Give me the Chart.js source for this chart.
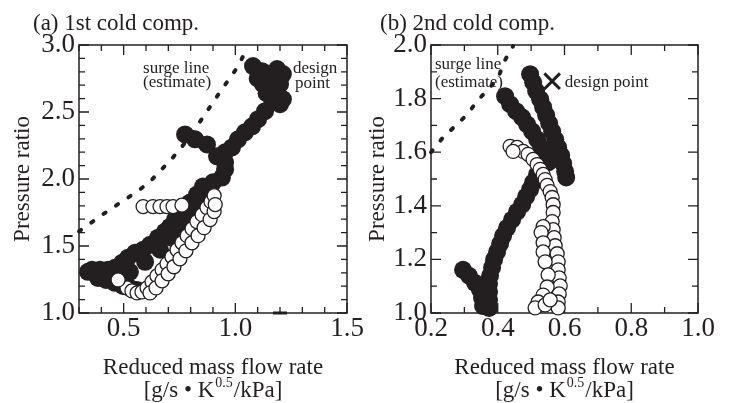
<!DOCTYPE html>
<html>
<head>
<meta charset="utf-8">
<script src="https://cdn.jsdelivr.net/npm/chart.js@4.4.1/dist/chart.umd.min.js"></script>
<style>
  html, body { margin: 0; padding: 0; background: #fff; }
  #wrap { position: relative; width: 732px; height: 403px; }
  canvas { position: absolute; top: 0; }
  #ca { left: 0; }
  #cb { left: 366px; }
</style>
</head>
<body>
<div id="wrap">
  <canvas id="ca" width="366" height="403"></canvas>
  <canvas id="cb" width="366" height="403"></canvas>
</div>
<script>
// (a) 1st cold comp. -- [reduced mass flow, pressure ratio]
const aFilled = [
  [1.079, 2.843], [1.120, 2.805], [1.155, 2.760], [1.187, 2.820], [1.213, 2.783], [1.200, 2.708],
  [1.155, 2.685], [1.124, 2.708], [1.178, 2.633], [1.213, 2.596], [1.200, 2.558], [1.164, 2.596],
  [1.100, 2.750], [1.140, 2.640],
  [1.133, 2.506], [1.102, 2.446], [1.075, 2.393], [1.043, 2.348], [1.012, 2.296], [0.985, 2.236],
  [0.954, 2.199], [0.775, 2.333], [0.820, 2.296], [0.873, 2.258], [0.918, 2.169], [0.954, 2.124],
  [0.954, 2.071], [0.940, 2.011], [0.900, 1.975], [0.855, 1.944], [0.828, 1.884], [0.797, 1.824],
  [0.775, 1.772], [0.752, 1.734], [0.730, 1.697], [0.708, 1.644], [0.685, 1.607], [0.654, 1.562],
  [0.618, 1.509], [0.587, 1.472], [0.551, 1.449], [0.519, 1.412], [0.493, 1.375], [0.461, 1.337],
  [0.430, 1.322], [0.394, 1.322], [0.358, 1.322], [0.340, 1.307], [0.385, 1.262], [0.421, 1.247],
  [0.461, 1.225], [0.497, 1.202], [0.528, 1.187], [0.560, 1.172],
  [0.528, 1.307], [0.596, 1.382], [0.663, 1.472], [0.716, 1.562], [0.761, 1.659], [0.806, 1.757],
  [0.842, 1.846], [0.887, 1.936]
];
const aOpen = [
  [0.515, 1.187], [0.537, 1.165], [0.560, 1.150], [0.582, 1.157], [0.605, 1.187], [0.627, 1.232],
  [0.649, 1.277], [0.672, 1.322], [0.694, 1.367], [0.716, 1.419], [0.739, 1.472], [0.761, 1.524],
  [0.784, 1.577], [0.806, 1.629], [0.828, 1.682], [0.851, 1.734], [0.873, 1.787], [0.891, 1.831],
  [0.905, 1.876], [0.618, 1.150], [0.645, 1.187], [0.672, 1.240], [0.699, 1.292], [0.725, 1.345],
  [0.752, 1.404], [0.779, 1.464], [0.806, 1.524], [0.833, 1.577], [0.860, 1.637], [0.887, 1.697],
  [0.905, 1.757], [0.910, 1.809], [0.587, 1.794], [0.631, 1.794], [0.663, 1.794], [0.694, 1.794],
  [0.721, 1.794], [0.761, 1.805], [0.475, 1.247]
];
const aSurge = [
  [0.30, 1.61], [0.425, 1.757], [0.56, 1.906], [0.618, 1.98], [0.72, 2.16], [0.78, 2.28],
  [0.855, 2.46], [0.94, 2.67], [1.01, 2.835], [1.045, 2.95]
];
const aMark = [[1.2, 1.0]];
const aXTicks = [0.5, 1.0, 1.5];
const aYTicks = [1.0, 1.5, 2.0, 2.5, 3.0];

// (b) 2nd cold comp.
const bFilled = [
  [0.497, 1.891], [0.506, 1.861], [0.515, 1.828], [0.527, 1.798], [0.536, 1.768], [0.545, 1.738],
  [0.554, 1.708], [0.563, 1.678], [0.572, 1.648], [0.581, 1.618], [0.590, 1.588], [0.596, 1.558],
  [0.602, 1.528], [0.605, 1.506],
  [0.422, 1.809], [0.437, 1.779], [0.455, 1.753], [0.473, 1.730], [0.488, 1.704], [0.503, 1.678],
  [0.518, 1.648], [0.530, 1.618], [0.542, 1.588], [0.551, 1.562], [0.527, 1.547], [0.518, 1.517],
  [0.506, 1.487], [0.497, 1.461], [0.485, 1.434], [0.473, 1.404], [0.458, 1.378], [0.443, 1.348],
  [0.428, 1.318], [0.416, 1.288], [0.407, 1.258], [0.398, 1.228], [0.389, 1.199], [0.383, 1.169],
  [0.377, 1.139], [0.374, 1.109], [0.374, 1.079], [0.374, 1.049], [0.374, 1.019],
  [0.296, 1.161], [0.314, 1.139], [0.332, 1.112], [0.347, 1.086], [0.353, 1.056], [0.356, 1.026]
];
const bOpen = [
  [0.437, 1.622], [0.458, 1.618], [0.476, 1.603], [0.446, 1.603], [0.491, 1.592], [0.506, 1.573],
  [0.518, 1.554], [0.527, 1.536], [0.536, 1.517], [0.542, 1.498], [0.548, 1.476], [0.557, 1.453],
  [0.563, 1.431], [0.566, 1.404], [0.566, 1.375], [0.563, 1.341], [0.566, 1.311], [0.569, 1.281],
  [0.572, 1.251], [0.578, 1.221], [0.581, 1.191], [0.581, 1.161], [0.584, 1.131], [0.587, 1.101],
  [0.584, 1.071], [0.581, 1.041], [0.581, 1.019], [0.536, 1.322], [0.530, 1.300], [0.536, 1.262],
  [0.536, 1.228], [0.542, 1.191], [0.551, 1.142], [0.548, 1.097], [0.536, 1.067], [0.521, 1.041],
  [0.512, 1.019], [0.542, 1.030], [0.557, 1.049]
];
const bSurge = [
  [0.20, 1.60], [0.236, 1.655], [0.272, 1.697], [0.308, 1.74], [0.338, 1.79], [0.371, 1.835],
  [0.40, 1.873], [0.42, 1.94], [0.446, 1.996]
];
const bDesign = [[0.563, 1.865]];
const bXTicks = [0.2, 0.4, 0.6, 0.8, 1.0];
const bYTicks = [1.0, 1.2, 1.4, 1.6, 1.8, 2.0];

const INK = '#231f20';
const SERIF = "'Liberation Serif', 'Times New Roman', serif";
Chart.defaults.font.family = SERIF;
Chart.defaults.color = INK;

const pts = arr => arr.map(([x, y]) => ({ x, y }));

// box frame with inward ticks on all four sides
const frameTicks = {
  id: 'frameTicks',
  beforeDatasetsDraw(chart, args, o) {
    const { ctx, chartArea: a, scales: { x, y } } = chart;
    const isMajor = (list, v) => list.some(m => Math.abs(m - v) < 1e-6);
    ctx.save();
    ctx.strokeStyle = INK;
    ctx.lineWidth = 1.5;
    ctx.strokeRect(a.left, a.top, a.right - a.left, a.bottom - a.top);
    ctx.lineWidth = 1.3;
    ctx.beginPath();
    for (let i = 0; ; i++) {
      const v = +(x.min + i * o.step).toFixed(6);
      if (v > x.max + 1e-9) break;
      const len = isMajor(o.xMajor, v) ? 10 : 6;
      const px = x.getPixelForValue(v);
      ctx.moveTo(px, a.bottom); ctx.lineTo(px, a.bottom - len);
      ctx.moveTo(px, a.top); ctx.lineTo(px, a.top + len);
    }
    for (let i = 0; ; i++) {
      const v = +(y.min + i * o.step).toFixed(6);
      if (v > y.max + 1e-9) break;
      const len = isMajor(o.yMajor, v) ? 10 : 6;
      const py = y.getPixelForValue(v);
      ctx.moveTo(a.left, py); ctx.lineTo(a.left + len, py);
      ctx.moveTo(a.right, py); ctx.lineTo(a.right - len, py);
    }
    ctx.stroke();
    ctx.restore();
  }
};

// panel title, notes and the two-line x axis title
const texts = {
  id: 'texts',
  afterDraw(chart, args, o) {
    const { ctx, chartArea: a, scales: { x, y } } = chart;
    ctx.save();
    ctx.fillStyle = INK;
    ctx.textBaseline = 'alphabetic';
    ctx.textAlign = 'left';
    ctx.font = `23px ${SERIF}`;
    ctx.fillText(o.title, o.titleX, 30);

    ctx.font = `17px ${SERIF}`;
    o.notes.forEach(n => ctx.fillText(n.text, x.getPixelForValue(n.x), y.getPixelForValue(n.y)));

    const cx = (a.left + a.right) / 2;
    ctx.textAlign = 'center';
    ctx.font = `23px ${SERIF}`;
    ctx.fillText('Reduced mass flow rate', cx, 374);

    const p1 = '[g/s \u2022 K', sup = '0.5', p2 = '/kPa]';
    const w1 = ctx.measureText(p1).width, w3 = ctx.measureText(p2).width;
    ctx.font = `14px ${SERIF}`;
    const w2 = ctx.measureText(sup).width;
    let sx = cx - (w1 + w2 + w3 + 2) / 2;
    ctx.textAlign = 'left';
    ctx.font = `23px ${SERIF}`;
    ctx.fillText(p1, sx, 397);
    sx += w1 + 1;
    ctx.font = `14px ${SERIF}`;
    ctx.fillText(sup, sx, 387);
    sx += w2 + 1;
    ctx.font = `23px ${SERIF}`;
    ctx.fillText(p2, sx, 397);
    ctx.restore();
  }
};

function makePanel(id, c) {
  const datasets = [
    { data: pts(c.open), pointRadius: 7, pointBackgroundColor: '#fff', pointBorderColor: INK,
      pointBorderWidth: 1.3, order: 1, clip: false },
    { data: pts(c.filled), pointRadius: 9, pointBackgroundColor: INK, pointBorderColor: INK,
      pointBorderWidth: 0, order: 2, clip: false },
    { data: pts(c.surge), showLine: true, borderColor: INK, borderWidth: 4, borderDash: [2.5, 12.5],
      borderCapStyle: 'round', pointRadius: 0, order: 3, clip: false }
  ].concat(c.extra || []);

  return new Chart(document.getElementById(id), {
    type: 'scatter',
    data: { datasets },
    plugins: [frameTicks, texts],
    options: {
      responsive: false,
      animation: false,
      events: [],
      layout: { padding: { top: 45, right: c.right, bottom: 0, left: 0 } },
      plugins: {
        legend: { display: false },
        tooltip: { enabled: false },
        frameTicks: { step: 0.1, xMajor: c.xTicks, yMajor: c.yTicks },
        texts: { title: c.title, titleX: c.titleX, notes: c.notes }
      },
      scales: {
        x: {
          type: 'linear', min: c.xMin, max: c.xMax,
          afterFit: s => { s.height = 90; },
          afterBuildTicks: s => { s.ticks = c.xTicks.map(v => ({ value: v })); },
          grid: { display: false, drawTicks: false },
          border: { display: false },
          ticks: { autoSkip: false, maxRotation: 0, padding: 2, color: INK,
            font: { size: 27, lineHeight: 1 }, callback: v => Number(v).toFixed(1) }
        },
        y: {
          type: 'linear', min: c.yMin, max: c.yMax,
          afterFit: s => { s.width = c.yWidth; },
          afterBuildTicks: s => { s.ticks = c.yTicks.map(v => ({ value: v })); },
          grid: { display: false, drawTicks: false },
          border: { display: false },
          ticks: { autoSkip: false, padding: 4, color: INK,
            font: { size: 27, lineHeight: 1 }, callback: v => Number(v).toFixed(1) },
          title: { display: true, text: 'Pressure ratio', color: INK,
            font: { size: 23, lineHeight: 1 }, padding: { top: c.yTitlePad, bottom: 0 } }
        }
      }
    }
  });
}

makePanel('ca', {
  title: '(a) 1st cold comp.', titleX: 33,
  filled: aFilled, open: aOpen, surge: aSurge,
  extra: [{ data: pts(aMark), pointStyle: 'line', pointRadius: 7, pointBorderWidth: 3,
    pointBorderColor: INK, order: 0, clip: false }],
  xMin: 0.3, xMax: 1.5, yMin: 1.0, yMax: 3.0,
  xTicks: aXTicks, yTicks: aYTicks,
  yWidth: 79, right: 19, yTitlePad: 11,
  notes: [
    { text: 'surge line', x: 0.587, y: 2.79 },
    { text: '(estimate)', x: 0.587, y: 2.69 },
    { text: 'design', x: 1.258, y: 2.79 },
    { text: 'point', x: 1.267, y: 2.68 }
  ]
});

makePanel('cb', {
  title: '(b) 2nd cold comp.', titleX: 14,
  filled: bFilled, open: bOpen, surge: bSurge,
  extra: [{ data: pts(bDesign), pointStyle: 'crossRot', pointRadius: 11, pointBorderWidth: 3,
    pointBorderColor: INK, order: 0, clip: false }],
  xMin: 0.2, xMax: 1.0, yMin: 1.0, yMax: 2.0,
  xTicks: bXTicks, yTicks: bYTicks,
  yWidth: 65, right: 34, yTitlePad: 0,
  notes: [
    { text: 'surge line', x: 0.212, y: 1.911 },
    { text: '(estimate)', x: 0.212, y: 1.843 },
    { text: 'design point', x: 0.601, y: 1.843 }
  ]
});
</script>
</body>
</html>
